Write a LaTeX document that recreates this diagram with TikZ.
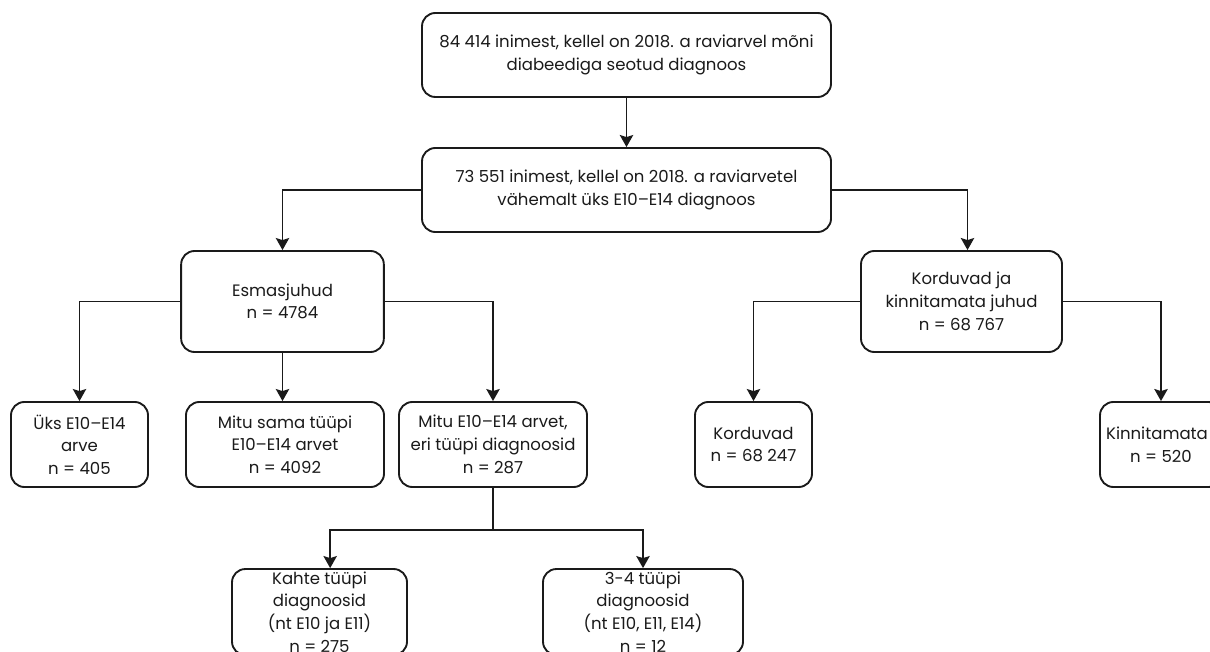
\documentclass[tikz,border=0pt]{standalone}
\usepackage{fontspec}
\setmainfont{Poppins}
\usetikzlibrary{arrows.meta, positioning}
\definecolor{ink}{HTML}{1A1A1A}

\begin{document}
\begin{tikzpicture}[
  x=0.75pt, y=-0.75pt,
  font=\fontsize{12.4}{17}\selectfont,
  box/.style={draw=ink, line width=1.4pt, rounded corners=10pt, fill=white, text=ink,
           align=center, inner sep=2pt},
  arr/.style={-{Stealth[length=9pt, width=10pt, inset=1.5pt]}, line width=1.4pt, color=ink}
]
  \useasboundingbox (0,0) rectangle (1210,652);
  \clip (0,0) rectangle (1210,652);

  % ülemised kastid
  \node[box, minimum width=306.75pt, minimum height=63pt] (all) at (626.5,55)
    {84 414 inimest, kellel on 2018. a raviarvel mõni\\ diabeediga seotud diagnoos};
  \node[box, minimum width=306.75pt, minimum height=63pt] (e1014) at (626.5,190)
    {73 551 inimest, kellel on 2018. a raviarvetel\\ vähemalt üks E10–E14 diagnoos};

  \node[box, minimum width=152pt, minimum height=75.75pt] (esm) at (282.5,301.5)
    {Esmasjuhud\\ n = 4784};
  \node[box, minimum width=150.75pt, minimum height=75.75pt] (kord) at (961.5,301.5)
    {Korduvad ja\\ kinnitamata juhud\\ n = 68 767};

  % kolmas rida
  \node[box, minimum width=102.75pt, minimum height=63.75pt] (yks) at (79.5,444.5)
    {Üks E10–E14\\ arve\\ n = 405};
  \node[box, minimum width=148.5pt, minimum height=63.75pt] (sama) at (285,444.5)
    {Mitu sama tüüpi\\ E10–E14 arvet\\ n = 4092};
  \node[box, minimum width=141pt, minimum height=63.75pt] (eri) at (493,444.5)
    {Mitu E10–E14 arvet,\\ eri tüüpi diagnoosid\\ n = 287};
  \node[box, minimum width=87.75pt, minimum height=63.75pt] (korduvad) at (753.5,444.5)
    {Korduvad\\ n = 68 247};
  \node[box, minimum width=91.5pt, minimum height=63.75pt] (kinn) at (1161,444.5)
    {\hspace*{-6pt}Kinnitamata\\ n = 520};

  % alumine rida
  \node[box, minimum width=131.25pt, minimum height=63pt] (kahte) at (319.5,612)
    {Kahte tüüpi\\ diagnoosid\\ (nt E10 ja E11)\\ n = 275};
  \node[box, minimum width=150pt, minimum height=63pt] (kolm) at (643,612)
    {3-4 tüüpi\\ diagnoosid\\ (nt E10, E11, E14)\\ n = 12};

  \coordinate (split) at (493,530);

  \draw[arr] (all) -- (e1014);
  \draw[arr] (e1014.west) -| (esm.north);
  \draw[arr] (e1014.east) -| ([xshift=4.5pt]kord.north);
  \draw[arr] (esm.west) -| (yks.north);
  \draw[arr] (esm.south) -- (esm.south |- sama.north);
  \draw[arr] (esm.east) -| (eri.north);
  \draw[arr] (kord.west) -| (korduvad.north);
  \draw[arr] (kord.east) -| (kinn.north);
  \draw[line width=1.4pt, ink] (eri.south) -- (split);
  \draw[arr] (split) -| ([xshift=8pt]kahte.north);
  \draw[arr] (split) -| (kolm.north);
\end{tikzpicture}
\end{document}
